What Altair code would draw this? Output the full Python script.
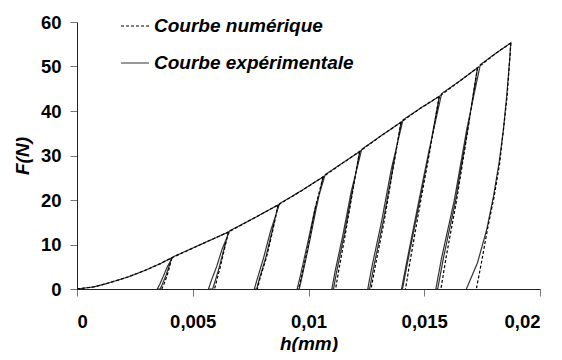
import altair as alt
import pandas as pd

NUM = "Courbe numérique"
EXP = "Courbe expérimentale"

# Loading curve segments (h in mm, F in N); last point of each segment is a peak
load_seg_h = [
    [0, 0.0007, 0.0014, 0.0022, 0.0029, 0.0036, 0.00409],
    [0.0053, 0.00654],
    [0.0076, 0.00869],
    [0.0097, 0.01063],
    [0.0115, 0.01221],
    [0.0131, 0.0140],
    [0.0148, 0.01565],
    [0.0165, 0.0173],
    [0.0181, 0.01874],
]
load_seg_F = [
    [0, 0.45, 1.4, 2.7, 4.1, 5.7, 7.0],
    [9.9, 12.8],
    [15.8, 18.9],
    [22.1, 25.2],
    [28.4, 30.9],
    [34.3, 37.5],
    [40.5, 43.3],
    [46.6, 49.7],
    [53.0, 55.3],
]

# Experimental unloading branches (below each peak)
exp_down_F = [
    [5.0, 3.0, 1.0, 0],
    [9, 5, 2, 0],
    [13, 7, 2.5, 0],
    [18, 10, 3, 0],
    [22, 12, 4, 0],
    [27, 15, 5, 0],
    [31, 17, 6, 0],
    [36, 20, 7, 0],
    [50.8, 43.3, 35.8, 28.3, 20.8, 13.4, 5.9, 0],
]
exp_down_h = [
    [0.00397, 0.00384, 0.00368, 0.00359],
    [0.00635, 0.00615, 0.00598, 0.00586],
    [0.00843, 0.00815, 0.00789, 0.00776],
    [0.01033, 0.01002, 0.00973, 0.0096],
    [0.01190, 0.01154, 0.01122, 0.01108],
    [0.01364, 0.01322, 0.01282, 0.01264],
    [0.01522, 0.01470, 0.01428, 0.01406],
    [0.01688, 0.01636, 0.01583, 0.01558],
    [0.01868, 0.01856, 0.01842, 0.01823, 0.01799, 0.01770, 0.01730, 0.01682],
]

# Experimental reloading branches
exp_up_F = [
    [0, 1.0, 3.0, 5.0, 7.2],
    [0, 2, 5, 9, 13.1],
    [0, 2.5, 7, 13, 19.2],
    [0, 3, 10, 18, 25.7],
    [0, 4, 12, 22, 31.4],
    [0, 5, 15, 27, 38.0],
    [0, 6, 17, 31, 43.9],
    [0, 7, 20, 36, 50.4],
]
exp_up_h = [
    [0.00347, 0.00357, 0.00374, 0.00390, 0.00414],
    [0.00568, 0.00581, 0.00603, 0.00627, 0.00660],
    [0.00766, 0.00780, 0.00806, 0.00836, 0.00875],
    [0.00951, 0.00965, 0.00995, 0.01028, 0.01072],
    [0.01101, 0.01115, 0.01148, 0.01185, 0.01230],
    [0.01256, 0.01274, 0.01315, 0.01358, 0.01408],
    [0.01402, 0.01424, 0.01466, 0.01520, 0.01575],
    [0.0155, 0.01575, 0.01630, 0.01684, 0.01742],
]

# Numerical unloading branches
num_down_F = [
    [5.0, 3.0, 1.0, 0],
    [9, 5, 2, 0],
    [13, 7, 2.5, 0],
    [18, 10, 3, 0],
    [22, 12, 4, 0],
    [27, 15, 5, 0],
    [31, 17, 6, 0],
    [36, 20, 7, 0],
    [43.3, 28.3, 20.8, 13.4, 5.9, 0],
]
num_down_h = [
    [0.00400, 0.00389, 0.00375, 0.00366],
    [0.00637, 0.00619, 0.00604, 0.00594],
    [0.00845, 0.00818, 0.00791, 0.00779],
    [0.01028, 0.01000, 0.00971, 0.00957],
    [0.01191, 0.01158, 0.01130, 0.01117],
    [0.01365, 0.01326, 0.01288, 0.0127],
    [0.01524, 0.01475, 0.01438, 0.01419],
    [0.01689, 0.01640, 0.01594, 0.01572],
    [0.01858, 0.01826, 0.01802, 0.01773, 0.01747, 0.01725],
]

x_ticks = [0, 0.005, 0.01, 0.015, 0.02]
y_ticks = [0, 10, 20, 30, 40, 50, 60]

rows = []


def add(series, path, hs, Fs):
    for h, F in zip(hs, Fs):
        rows.append({"series": series, "path": path, "idx": len(rows), "h": h, "F": F})


# experimental: one continuous path
for k in range(len(load_seg_h)):
    add(EXP, "exp", load_seg_h[k], load_seg_F[k])
    add(EXP, "exp", exp_down_h[k], exp_down_F[k])
    if k < len(exp_up_h):
        add(EXP, "exp", exp_up_h[k], exp_up_F[k])

# numerical: loading curve + unloading branches
for k in range(len(load_seg_h)):
    add(NUM, "num_load", load_seg_h[k], load_seg_F[k])
for k in range(len(num_down_h)):
    add(NUM, f"num_u{k}", [load_seg_h[k][-1]] + num_down_h[k],
        [load_seg_F[k][-1]] + num_down_F[k])

df = pd.DataFrame(rows)

FONT = "Liberation Sans"

legend = alt.Legend(
    title=None, orient="none", legendX=43, legendY=-11,
    symbolType="stroke", symbolSize=784, symbolStrokeWidth=1.2,
    labelFont=FONT, labelFontSize=19, labelFontStyle="italic",
    labelFontWeight="bold", labelColor="black", labelOffset=4,
    rowPadding=12, padding=0, labelLimit=400,
)

chart = alt.Chart(df).mark_line(strokeWidth=1.2).encode(
    x=alt.X("h:Q", scale=alt.Scale(domain=[0, 0.02], nice=False, zero=False),
            axis=alt.Axis(values=x_ticks, title="h(mm)",
                          labelExpr="replace(format(datum.value, '~g'), '.', ',')",
                          labelPadding=16, titleBaseline="alphabetic", titleY=60)),
    y=alt.Y("F:Q", scale=alt.Scale(domain=[0, 60], nice=False),
            axis=alt.Axis(values=y_ticks, title="F(N)", labelPadding=9,
                          titleBaseline="alphabetic", titleX=-49, titleY=133.5,
                          titleAlign="center")),
    color=alt.Color("series:N", scale=alt.Scale(domain=[NUM, EXP], range=["#000000", "#333333"]),
                    legend=legend),
    strokeDash=alt.StrokeDash("series:N", scale=alt.Scale(domain=[NUM, EXP], range=[[3, 2], [1, 0]]),
                              legend=legend),
    detail="path:N",
    order="idx:Q",
).properties(
    width=463, height=267,
    autosize=alt.AutoSizeParams(type="none"),
    padding={"left": 69, "top": 14, "right": 14, "bottom": 63},
).configure_axis(
    labelFont=FONT, labelFontSize=18.5, labelFontWeight="bold", labelColor="black",
    titleFont=FONT, titleFontSize=19, titleFontWeight="bold", titleFontStyle="italic",
    titleColor="black", tickSize=7, tickColor="#777777", domainColor="#222222",
    grid=False, tickWidth=1, domainWidth=1,
).configure_view(stroke=None)

chart.save("out.html", embed_options={"renderer": "svg", "actions": False})
